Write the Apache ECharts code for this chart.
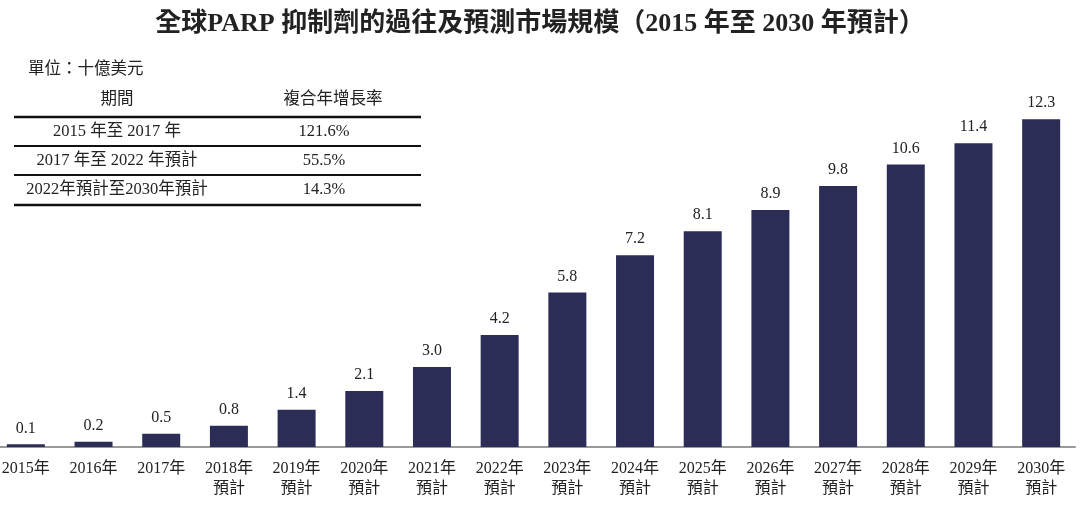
<!DOCTYPE html>
<html>
<head>
<meta charset="utf-8">
<script src="https://cdn.jsdelivr.net/npm/echarts@6/dist/echarts.min.js"></script>
<style>html,body{margin:0;padding:0;background:#fff}#c{width:1080px;height:509px}</style>
</head>
<body>
<div id="c"></div>
<script>
const categories = ['2015年','2016年','2017年','2018年\n預計','2019年\n預計','2020年\n預計','2021年\n預計','2022年\n預計','2023年\n預計','2024年\n預計','2025年\n預計','2026年\n預計','2027年\n預計','2028年\n預計','2029年\n預計','2030年\n預計'];
const values = [0.1,0.2,0.5,0.8,1.4,2.1,3.0,4.2,5.8,7.2,8.1,8.9,9.8,10.6,11.4,12.3];
const tableHeader = ['期間','複合年增長率'];
const tablePeriods = ['2015 年至 2017 年','2017 年至 2022 年預計','2022年預計至2030年預計'];
const tableCagr = ['121.6%','55.5%','14.3%'];
const unitText = '單位：十億美元';
const titleText = '全球PARP 抑制劑的過往及預測市場規模（2015 年至 2030 年預計）';

const FONT = '"Liberation Serif","Noto Sans CJK TC",serif';
const chart = echarts.init(document.getElementById('c'));

const graphics = [];
graphics.push({type:'text', left:28, top:61, style:{text:unitText, font:'16.5px ' + FONT, fill:'#222'}});
const col1 = 117, col2 = 324;
graphics.push({type:'text', x:col1, y:100, style:{text:tableHeader[0], font:'16.5px ' + FONT, fill:'#222', align:'center', verticalAlign:'middle'}});
graphics.push({type:'text', x:col2+9, y:100, style:{text:tableHeader[1], font:'16.5px ' + FONT, fill:'#222', align:'center', verticalAlign:'middle'}});
const lineYs = [117, 146, 175, 205];
lineYs.forEach((y, i) => {
  const w = (i === 0 || i === lineYs.length - 1) ? 2.5 : 2;
  graphics.push({type:'line', shape:{x1:14, y1:y, x2:421, y2:y}, style:{stroke:'#111', lineWidth:w}});
});
tablePeriods.forEach((p, i) => {
  const y = (lineYs[i] + lineYs[i+1]) / 2;
  graphics.push({type:'text', x:col1, y:y, style:{text:p, font:'16.5px ' + FONT, fill:'#222', align:'center', verticalAlign:'middle'}});
  graphics.push({type:'text', x:col2, y:y, style:{text:tableCagr[i], font:'16.5px ' + FONT, fill:'#222', align:'center', verticalAlign:'middle'}});
});

chart.setOption({
  animation:false,
  title:{text:titleText, left:'center', top:6, textStyle:{fontFamily:FONT, fontSize:26, fontWeight:'bold', color:'#222'}},
  grid:{left:-8, width:1083, top:74, height:373, outerBoundsMode:'none', containLabel:false},
  xAxis:{type:'category', data:categories,
    axisLine:{lineStyle:{color:'#999', width:2}}, axisTick:{show:false},
    axisLabel:{fontFamily:FONT, fontSize:16, color:'#222', lineHeight:20, margin:12, interval:0}},
  yAxis:{type:'value', min:0, max:14, show:false, splitLine:{show:false}},
  graphic:graphics,
  series:[{type:'bar', data:values, barWidth:38, itemStyle:{color:'#2b2d56'},
    label:{show:true, position:'top', distance:8, fontFamily:FONT, fontSize:16, color:'#222', formatter:p=>p.value.toFixed(1)}}]
});
</script>
</body>
</html>
